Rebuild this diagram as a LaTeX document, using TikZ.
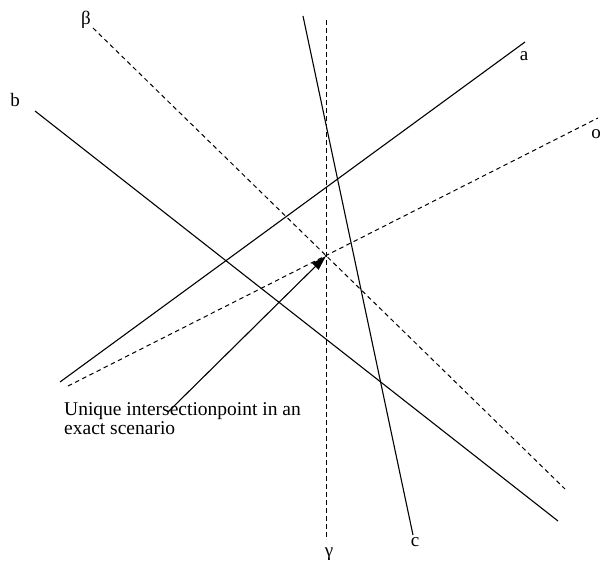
\documentclass[tikz,border=0pt]{standalone}
\usepackage{fontspec}
\setmainfont{Liberation Serif}
\usetikzlibrary{arrows.meta}
\begin{document}
\begin{tikzpicture}[x=1pt,y=-1pt,
  ln/.style={line width=1.1pt},
  dl/.style={line width=1pt,dash pattern=on 4.5pt off 3.5pt},
  lbl/.style={inner sep=0pt,font=\fontsize{19}{19}\selectfont},
  note/.style={inner sep=0pt,anchor=base west,align=left,font=\fontsize{19.5}{19}\selectfont}]
\useasboundingbox (0,0) rectangle (600,562);
% endpoints
\coordinate (a1) at (60,382);  \coordinate (a2) at (525,42);
\coordinate (b1) at (35,111);  \coordinate (b2) at (558,521);
\coordinate (c1) at (303,16);  \coordinate (c2) at (413,535);
\coordinate (be1) at (93,28);  \coordinate (be2) at (565,489);
\coordinate (o1) at (68,386);  \coordinate (o2) at (598,118);
\coordinate (g1) at (326,20);  \coordinate (g2) at (326,540);
\coordinate (X) at (326,256);
\coordinate (t) at (168,412);
% lines
\draw[ln] (a1) -- (a2);
\draw[ln] (b1) -- (b2);
\draw[ln] (c1) -- (c2);
\draw[dl] (be1) -- (be2);
\draw[dl] (o1) -- (o2);
\draw[dl] (g1) -- (g2);
% labels
\node[lbl] (la) at (524,56) {a};
\node[lbl] (lb) at (15,100) {b};
\node[lbl] (lc) at (415,542) {c};
\node[lbl] (lbe) at (86,20) {β};
\node[lbl] (lo) at (596,134) {o};
\node[lbl] (lg) at (329,554) {γ};
% annotation
\node[note] (txt) at (64,434) {Unique intersectionpoint in an\\exact scenario};
\draw[ln,-{Triangle[length=15pt,width=9pt]}] (t) -- (X);
\end{tikzpicture}
\end{document}
